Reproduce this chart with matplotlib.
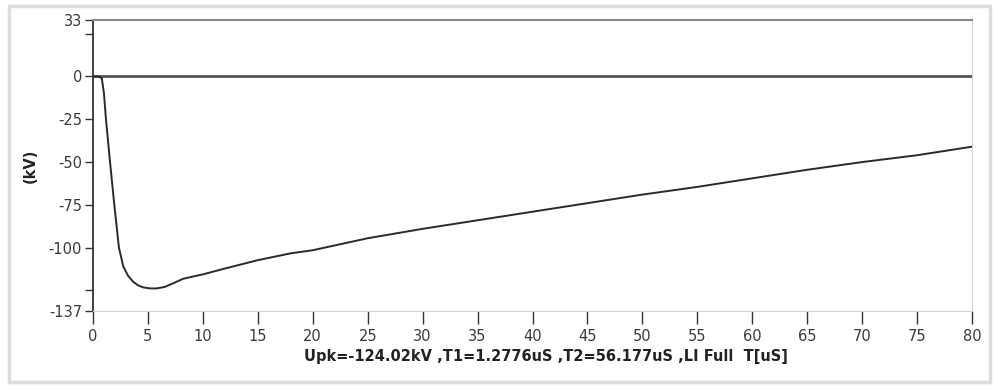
import matplotlib.pyplot as plt
from matplotlib.patches import Rectangle

# waveform (time in uS, voltage in kV)
time = [0, 0.5, 0.8, 1.0, 1.18, 1.55, 1.94, 2.36, 2.76, 3.2, 3.67, 4.1, 4.57, 5.2, 5.79,
        6.5, 7.3, 8.2, 9.0, 10, 12, 15, 18, 20, 25, 30, 35, 40, 45, 50, 55, 60, 65,
        70, 75, 80]
voltage = [0, 0, -1, -10, -25, -50, -75, -100, -111, -116.5, -120, -122, -123.2, -123.8,
           -123.8, -123, -120.8, -118.2, -117, -115.6, -112.2, -107.3, -103.3, -101.5,
           -94.5, -89, -84, -79, -74, -69, -64.5, -59.5, -54.5, -50, -46, -41]

yticks = [33, 25, 0, -25, -50, -75, -100, -125, -137]
ytick_labels = ['33', '', '0', '-25', '-50', '-75', '-100', '', '-137']
xticks = list(range(0, 85, 5))

plt.rcParams['font.family'] = ['DejaVu Sans']

fig = plt.figure(figsize=(9.96, 3.87), dpi=100)
fig.patches.append(Rectangle((9 / 996, 5 / 387), 981 / 996, 376 / 387, transform=fig.transFigure,
                             fill=False, edgecolor='#dddddd', linewidth=2.5))

ax = fig.add_axes([93 / 996, 1 - 311 / 387, 879 / 996, 291 / 387])
ax.axhline(0, color='#555555', linewidth=2)
ax.plot(time, voltage, '-', color='#2a2a2a', linewidth=1.4)

ax.set_xlim(0, 80)
ax.set_ylim(-137, 33)
ax.set_xticks(xticks)
ax.set_yticks(yticks)
ax.set_yticklabels(ytick_labels)

ax.spines['left'].set_color('#333333')
ax.spines['left'].set_linewidth(1.3)
ax.spines['top'].set_color('#888888')
ax.spines['top'].set_linewidth(1.5)
ax.spines['right'].set_color('#d0d0d0')
ax.spines['bottom'].set_color('#d0d0d0')

ax.tick_params(axis='y', direction='out', length=6, width=1, color='#333333',
               labelsize=10.5, labelcolor='#3a3a3a', pad=2)
ax.tick_params(axis='x', direction='out', length=9, width=1, color='#333333',
               labelsize=10.5, labelcolor='#3a3a3a', pad=4)

ax.set_xlabel('Upk=-124.02kV ,T1=1.2776uS ,T2=56.177uS ,LI Full  T[uS]',
              fontsize=10.5, fontweight='bold', color='#222222')
ax.xaxis.label.set_va('center')
ax.xaxis.set_label_coords(0.515, -0.158)
ax.set_ylabel('(kV)', fontsize=10.5, fontweight='bold', color='#222222', labelpad=8)

plt.savefig('out.png', dpi=100)
